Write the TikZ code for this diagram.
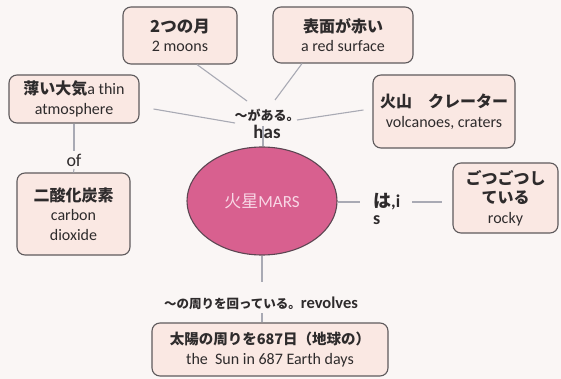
\documentclass[tikz,border=0pt]{standalone}
\usepackage{fontspec}
\setmainfont{Carlito}
\newfontfamily\jp{Noto Sans CJK JP}
\usetikzlibrary{calc,shapes.geometric}
\definecolor{bg}{HTML}{FAF6F5}
\definecolor{boxfill}{HTML}{FAE8E3}
\definecolor{boxline}{HTML}{5E5A5C}
\definecolor{linkc}{HTML}{A9AAB4}
\definecolor{mars}{HTML}{D8608F}
\definecolor{marsline}{HTML}{5C4652}
\definecolor{marstext}{HTML}{F8D8E6}
\definecolor{txt}{HTML}{2E2B2C}
\begin{document}
\begin{tikzpicture}[x=1pt,y=-1pt,
  concept/.style={draw=boxline, line width=1.1pt, fill=boxfill, rounded corners=8pt,
    align=center, inner sep=0pt, text=txt, font=\fontsize{16}{19.5}\selectfont},
  jpt/.style={},
  linkword/.style={align=center, inner sep=1pt, text=txt},
  conn/.style={draw=linkc, line width=1.1pt}]
\fill[bg] (0,0) rectangle (561,379);
\useasboundingbox (0,0) rectangle (561,379);

% concepts
\node[concept, minimum width=114pt, minimum height=57pt] (moons) at (180,35.5)
  {{\jp\bfseries\fontsize{16.5}{19.5}\selectfont 2つの月}\\2 moons};
\node[concept, minimum width=140pt, minimum height=56pt] (red) at (343,35)
  {{\jp\bfseries 表面が赤い}\\a red surface};
\node[concept, minimum width=130pt, minimum height=48pt] (atmos) at (74,99)
  {{\jp\bfseries 薄い大気}a thin\\atmosphere};
\node[concept, minimum width=142pt, minimum height=73pt] (volc) at (444,111.5)
  {{\jp\bfseries 火山　クレーター}\\volcanoes, craters};
\node[concept, minimum width=105pt, minimum height=70pt] (rocky) at (505.5,198)
  {{\jp\bfseries ごつごつし}\\{\jp\bfseries ている}\\rocky};
\node[concept, minimum width=113pt, minimum height=82pt] (co2) at (73.5,214)
  {{\jp\bfseries 二酸化炭素}\\carbon\\dioxide};
\node[concept, minimum width=236pt, minimum height=53pt] (sun) at (270,349.5)
  {{\jp\bfseries\fontsize{14.5}{19.5}\selectfont 太陽の周りを687日（地球の）}\\the\ \ Sun in 687 Earth days};
\node[ellipse, draw=marsline, line width=1.1pt, fill=mars, minimum width=150pt,
  minimum height=108pt, inner sep=0pt, text=marstext, font=\fontsize{17}{20}\selectfont]
  (mars) at (262,201) {{\jp 火星}MARS};

% linking words
\node[linkword, font=\fontsize{19}{18}\selectfont\bfseries] (has) at (267,124)
  {{\jp\fontsize{13}{15}\selectfont 〜がある。}\\has};
\node[linkword, font=\fontsize{18}{18}\selectfont] (of) at (74,160) {of};
\node[linkword, anchor=west, align=left, font=\fontsize{18}{17}\selectfont\bfseries]
  (isl) at (372,209) {{\jp は},i\\s};
\node[linkword, font=\fontsize{16.5}{18}\selectfont\bfseries] (rev) at (261,303)
  {{\jp\fontsize{12.5}{15}\selectfont 〜の周りを回っている。}revolves};

% connectors
\draw[conn] ($(moons.south)+(17,0)$) -- ($(has)+(-20,-23)$);
\draw[conn] ($(red.south)+(-41,0)$) -- ($(has)+(8,-24)$);
\draw[conn] ($(atmos.east)+(14,10)$) -- ($(has)+(-32,-1)$);
\draw[conn] ($(has)+(30,-4)$) -- ($(volc.west)+(-9,-1.5)$);
\draw[conn] ($(has)+(-4,2)$) -- ($(mars.north)+(1,0)$);
\draw[conn] (atmos.south) -- ($(of)+(0,-9)$);
\draw[conn] ($(of)+(0,9)$) -- (co2.north);
\draw[conn] ($(mars.east)+(0,1)$) -- ($(isl.west)+(-12,-7)$);
\draw[conn] ($(isl.west)+(40,-7)$) -- ($(rocky.west)+(-10,4)$);
\draw[conn] (mars.south) -- ($(rev)+(1,-21)$);
\draw[conn] ($(rev)+(1,10)$) -- ($(sun.north)+(-8,0)$);
\end{tikzpicture}
\end{document}
